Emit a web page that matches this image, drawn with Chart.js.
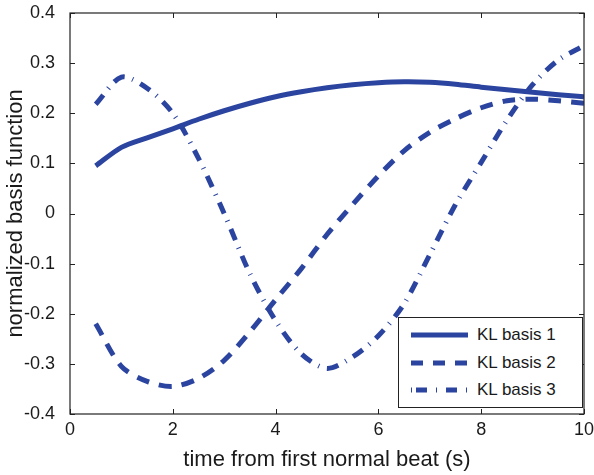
<!DOCTYPE html>
<html>
<head>
<meta charset="utf-8">
<script src="https://cdn.jsdelivr.net/npm/chart.js@4.4.1/dist/chart.umd.min.js"></script>
<style>
  html, body { margin: 0; padding: 0; background: #fff; }
  #wrap { position: relative; width: 594px; height: 475px; }
  #legend {
    position: absolute; left: 398px; top: 317px; width: 185px; height: 91px;
    box-sizing: border-box; border: 1px solid #222; background: #fff;
    font-family: 'Liberation Sans', Arial, sans-serif; font-size: 17px; color: #1a1a1a;
  }
  .row { position: absolute; left: 12px; height: 20px; display: flex; align-items: center; }
  .row svg { margin-right: 9px; }
</style>
</head>
<body>
<div id="wrap">
  <canvas id="myChart"></canvas>
  <div id="legend"></div>
</div>
<script>
const xValues = [0.5, 1, 1.5, 2, 2.5, 3, 3.5, 4, 4.5, 5, 5.5, 6, 6.5, 7, 7.5, 8, 8.5, 9, 9.5, 10];
const basis1 = [0.095, 0.132, 0.151, 0.169, 0.188, 0.205, 0.220, 0.233, 0.243, 0.251, 0.257, 0.261, 0.263, 0.262, 0.258, 0.252, 0.247, 0.242, 0.237, 0.233];
const basis2 = [-0.220, -0.305, -0.335, -0.345, -0.329, -0.293, -0.236, -0.172, -0.110, -0.042, 0.018, 0.075, 0.125, 0.162, 0.189, 0.211, 0.225, 0.228, 0.225, 0.220];
const basis3 = [0.218, 0.272, 0.250, 0.200, 0.110, 0.000, -0.120, -0.214, -0.280, -0.309, -0.286, -0.244, -0.180, -0.082, 0.018, 0.102, 0.186, 0.257, 0.306, 0.335];
const seriesNames = ['KL basis 1', 'KL basis 2', 'KL basis 3'];
const xTicks = [0, 2, 4, 6, 8, 10];
const xTickLabels = ['0', '2', '4', '6', '8', '10'];
const yTicks = [-0.4, -0.3, -0.2, -0.1, 0, 0.1, 0.2, 0.3, 0.4];
const yTickLabels = ['-0.4', '-0.3', '-0.2', '-0.1', '0', '0.1', '0.2', '0.3', '0.4'];

const blue = '#2b449f';
const dashes = [[], [13, 10], [12, 8, 1, 8]];
const font = "'Liberation Sans', Arial, sans-serif";

const toPoints = (ys) => ys.map((y, i) => ({ x: xValues[i], y: y }));

// box round the plot with inward ticks on all four sides
const frame = {
  id: 'frame',
  afterDatasetsDraw(chart) {
    const { ctx, chartArea: a, scales: { x, y } } = chart;
    ctx.save();
    ctx.strokeStyle = '#222';
    ctx.lineWidth = 1.2;
    ctx.strokeRect(a.left, a.top, a.right - a.left, a.bottom - a.top);
    ctx.lineWidth = 1;
    ctx.beginPath();
    xTicks.forEach(v => {
      const px = Math.round(x.getPixelForValue(v)) + 0.5;
      ctx.moveTo(px, a.bottom); ctx.lineTo(px, a.bottom - 5);
      ctx.moveTo(px, a.top); ctx.lineTo(px, a.top + 5);
    });
    yTicks.forEach(v => {
      const py = Math.round(y.getPixelForValue(v)) + 0.5;
      ctx.moveTo(a.left, py); ctx.lineTo(a.left + 5, py);
      ctx.moveTo(a.right, py); ctx.lineTo(a.right - 5, py);
    });
    ctx.stroke();
    ctx.restore();
  }
};

const ctx = document.getElementById('myChart').getContext('2d');
let chart = new Chart(ctx, {
  type: 'line',
  data: {
    datasets: [basis1, basis2, basis3].map((ys, i) => ({
      label: seriesNames[i],
      data: toPoints(ys),
      borderColor: blue,
      borderWidth: 5,
      borderDash: dashes[i],
      borderJoinStyle: 'round',
      pointRadius: 0,
      tension: 0.3,
      fill: false
    }))
  },
  options: {
    responsive: true,
    maintainAspectRatio: false,
    animation: false,
    devicePixelRatio: 1,
    layout: { padding: { top: 13, right: 10, left: 0, bottom: 0 } },
    plugins: { legend: { display: false }, tooltip: { enabled: false } },
    scales: {
      x: {
        type: 'linear', min: 0, max: 10,
        afterBuildTicks: s => { s.ticks = xTicks.map(v => ({ value: v })); },
        afterFit: s => { s.height = 61; s.paddingLeft = 0; s.paddingRight = 0; },
        grid: { display: false }, border: { display: false },
        ticks: { callback: (v, i) => xTickLabels[i], padding: -3, color: '#1a1a1a', font: { family: font, size: 18 }, maxRotation: 0 },
        title: { display: true, text: 'time from first normal beat (s)', color: '#1a1a1a', font: { family: font, size: 22 }, padding: { top: 0, bottom: 2 } }
      },
      y: {
        min: -0.4, max: 0.4,
        afterBuildTicks: s => { s.ticks = yTicks.map(v => ({ value: v })); },
        afterFit: s => { s.width = 70; s.paddingTop = 0; s.paddingBottom = 0; },
        grid: { display: false }, border: { display: false },
        ticks: { callback: (v, i) => yTickLabels[i], padding: 7, color: '#1a1a1a', font: { family: font, size: 18 } },
        title: { display: true, text: 'normalized basis function', color: '#1a1a1a', font: { family: font, size: 22 }, padding: { top: 3, bottom: 0 } }
      }
    }
  },
  plugins: [frame]
});

// legend box drawn in the lower right corner of the plot
const legend = document.getElementById('legend');
const rowTops = [7, 35, 62];
seriesNames.forEach((name, i) => {
  const row = document.createElement('div');
  row.className = 'row';
  row.style.top = rowTops[i] + 'px';
  row.innerHTML = '<svg width="57" height="10"><line x1="0" y1="5" x2="57" y2="5" stroke="' + blue +
    '" stroke-width="5" stroke-dasharray="' + (i === 0 ? 'none' : (i === 1 ? '12 10' : '1 4 11 9 1 9 11 9')) + '"/></svg>' +
    '<span>' + name + '</span>';
  legend.appendChild(row);
});
</script>
</body>
</html>
